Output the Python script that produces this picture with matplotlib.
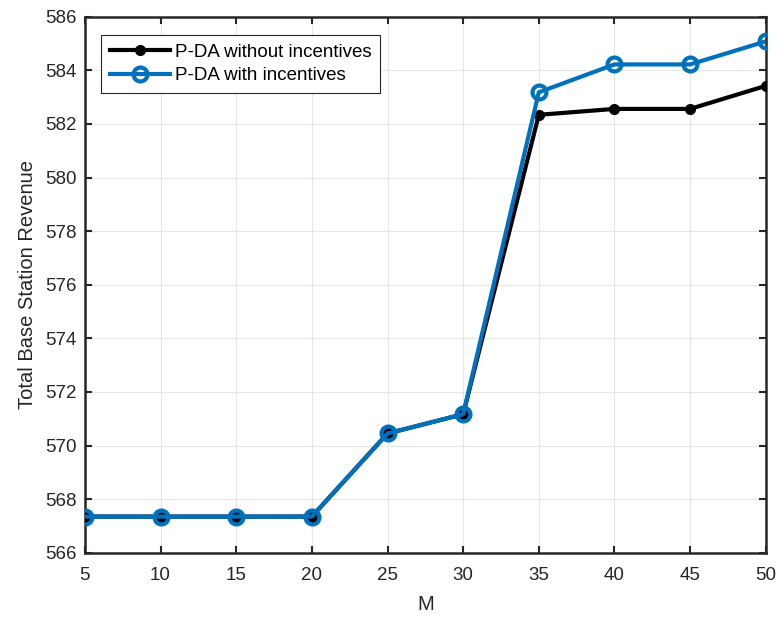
import matplotlib.pyplot as plt
import numpy as np

plt.rcParams['font.family'] = ['Liberation Sans', 'DejaVu Sans']

M = [5, 10, 15, 20, 25, 30, 35, 40, 45, 50]
without_inc = [567.35, 567.35, 567.35, 567.35, 570.45, 571.17, 582.34, 582.56, 582.56, 583.42]
with_inc = [567.35, 567.35, 567.35, 567.35, 570.45, 571.17, 583.18, 584.22, 584.22, 585.08]

txt = '#262626'

fig = plt.figure(figsize=(7.79, 6.19), dpi=100)
ax = fig.add_axes([0.109, 0.107, 0.874, 0.866])

ax.plot(M, without_inc, color='black', lw=3, marker='o', ms=7,
        label='P-DA without incentives', zorder=3)
ax.plot(M, with_inc, color='#0072BD', lw=3, marker='o', ms=10,
        mfc='none', mew=3, label='P-DA with incentives', zorder=4)

ax.set_xlim(5, 50)
ax.set_ylim(566, 586)
ax.set_xticks(np.arange(5, 51, 5))
ax.set_yticks(np.arange(566, 587, 2))
ax.grid(True, color='#e6e6e6', lw=0.8)
ax.set_axisbelow(True)
ax.tick_params(direction='in', top=True, right=True, length=5, width=1.5,
               labelsize=13.5, colors=txt)
ax.tick_params(axis='x', pad=10)
ax.tick_params(axis='y', pad=6)
for s in ax.spines.values():
    s.set_linewidth(1.8)
    s.set_color(txt)

ax.set_xlabel('M', fontsize=14.5, color=txt, labelpad=8)
ax.set_ylabel('Total Base Station Revenue', fontsize=14.5, color=txt, labelpad=6)

leg = ax.legend(loc='upper left', fontsize=13.5, fancybox=False,
                edgecolor='#262626', framealpha=1, borderpad=0.45,
                handlelength=3.2, labelspacing=0.35, handletextpad=0.3,
                bbox_to_anchor=(0.01, 0.983))
leg.get_frame().set_linewidth(0.8)

fig.savefig('out.png', dpi=100)
